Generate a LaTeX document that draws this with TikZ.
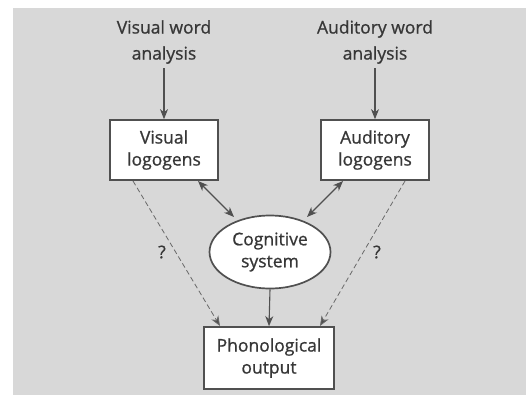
\documentclass[tikz,border=0pt]{standalone}
\usepackage{fontspec}
\setmainfont{Open Sans}[BoldFont={Open Sans},BoldFeatures={FakeBold=0.9}]
\usetikzlibrary{arrows.meta,shapes.geometric}
\definecolor{bg}{RGB}{216,216,216}
\definecolor{ink}{RGB}{55,55,55}
\definecolor{edge}{RGB}{80,80,80}
\begin{document}
\begin{tikzpicture}[x=1pt,y=-1pt,
  every node/.style={text=ink,font=\bfseries\fontsize{17.5}{22}\selectfont,align=center},
  lbl/.style={font=\bfseries\fontsize{17.5}{26}\selectfont},
  box/.style={draw=edge,fill=white,line width=1.7pt,minimum width=108pt,minimum height=60pt,inner sep=0pt},
  oval/.style={ellipse,draw=edge,fill=white,line width=1.7pt,minimum width=121pt,minimum height=73pt,inner sep=0pt},
  tip/.tip={Stealth[length=10pt,width=8pt,inset=3pt]},
  arr/.style={draw=edge,line width=1.1pt,-tip},
  darr/.style={draw=edge,line width=1.1pt,tip-tip},
  dasharr/.style={draw=edge!85,line width=0.8pt,dash pattern=on 5pt off 3pt,-{Stealth[length=10pt,width=8pt,inset=3pt,fill=edge]}}]
\useasboundingbox (0,0) rectangle (526,399);
\fill[bg] (13,8) rectangle (526,395);
\node[lbl] (vwa) at (164,42) {Visual word\\analysis};
\node[lbl] (awa) at (375,42) {Auditory word\\analysis};
\node[box] (vl) at (164,150) {Visual\\logogens};
\node[box] (al) at (375,150) {Auditory\\logogens};
\node[oval] (cs) at (270,252) {Cognitive\\system};
\node[box,minimum width=130pt,minimum height=62pt] (po) at (269,358) {Phonological\\output};
\node (q1) at (162,252) {?};
\node (q2) at (377,252) {?};
\coordinate (vwab) at (164,68);
\coordinate (awab) at (375,68);
\coordinate (vlb) at (133,181);
\coordinate (vlr) at (198,181);
\coordinate (alb) at (405,181);
\coordinate (all) at (343,181);
\coordinate (csl) at (234,217);
\coordinate (csr) at (307,217);
\coordinate (pol) at (220,326);
\coordinate (por) at (320,326);
\draw[arr] (vwab) -- (vl.north);
\draw[arr] (awab) -- (al.north);
\draw[darr] (vlr) -- (csl);
\draw[darr] (all) -- (csr);
\draw[arr] (cs.south) -- (po.north);
\draw[dasharr] (vlb) -- (pol);
\draw[dasharr] (alb) -- (por);
\end{tikzpicture}
\end{document}
